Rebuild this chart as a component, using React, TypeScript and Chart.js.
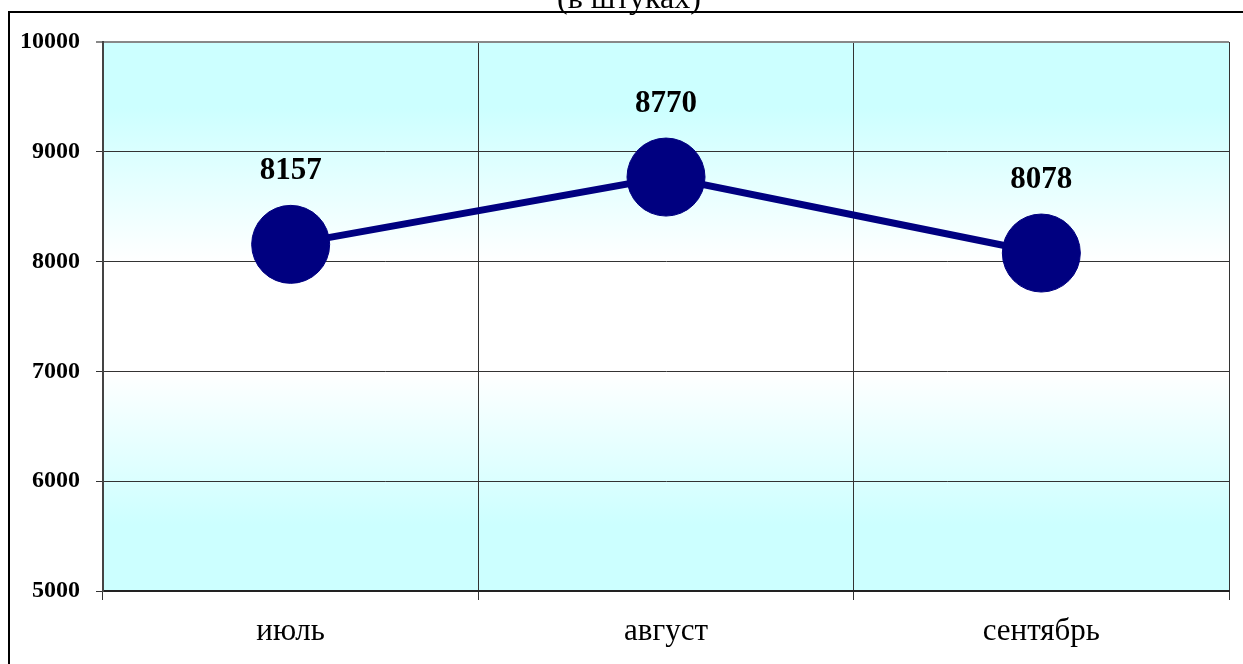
import React, { useEffect, useRef } from "react";
import { Chart, registerables } from "chart.js";

Chart.register(...registerables);

const title = "(в штуках)";
const categories = ["июль", "август", "сентябрь"];
const values = [8157, 8770, 8078];
const yMin = 5000;
const yMax = 10000;
const yStep = 1000;

const SERIF = '"Liberation Serif", "Times New Roman", serif';

export default function App() {
  const ref = useRef<HTMLCanvasElement | null>(null);

  useEffect(() => {
    if (!ref.current) return;

    const bgPlugin = {
      id: "bgFrame",
      beforeDraw(chart: any) {
        const { ctx, chartArea } = chart;
        ctx.save();
        ctx.fillStyle = "#ffffff";
        ctx.fillRect(0, 0, chart.width, chart.height);
        // outer frame
        ctx.fillStyle = "#000000";
        ctx.fillRect(8, 11, chart.width, 2);
        ctx.fillRect(8, 11, 2, chart.height);
        // title (cut off at top)
        ctx.font = `32px ${SERIF}`;
        ctx.textAlign = "center";
        ctx.textBaseline = "alphabetic";
        ctx.fillText(title, 629, 8);
        // plot background gradient
        const g = ctx.createLinearGradient(0, chartArea.top, 0, chartArea.bottom);
        g.addColorStop(0, "#ccffff");
        g.addColorStop(0.12, "#ccffff");
        g.addColorStop(0.4, "#ffffff");
        g.addColorStop(0.6, "#ffffff");
        g.addColorStop(0.88, "#ccffff");
        g.addColorStop(1, "#ccffff");
        ctx.fillStyle = g;
        ctx.fillRect(chartArea.left, chartArea.top, chartArea.right - chartArea.left, chartArea.bottom - chartArea.top);
        ctx.restore();
      },
    };

    const labelPlugin = {
      id: "pointLabels",
      afterDatasetsDraw(chart: any) {
        const { ctx } = chart;
        const meta = chart.getDatasetMeta(0);
        ctx.save();
        ctx.font = `bold 31px ${SERIF}`;
        ctx.fillStyle = "#000000";
        ctx.textAlign = "center";
        ctx.textBaseline = "middle";
        meta.data.forEach((pt: any, i: number) => {
          ctx.fillText(String(values[i]), pt.x, pt.y - 73);
        });
        ctx.restore();
      },
    };

    const chart = new Chart(ref.current, {
      type: "line",
      data: {
        labels: categories,
        datasets: [
          {
            data: values,
            borderColor: "#000080",
            backgroundColor: "#000080",
            borderWidth: 7,
            pointRadius: 39,
            pointHoverRadius: 39,
            pointBackgroundColor: "#000080",
            pointBorderColor: "#000080",
            pointBorderWidth: 1,
            tension: 0,
            fill: false,
          },
        ],
      },
      options: {
        responsive: false,
        animation: false,
        events: [],
        layout: { autoPadding: false, padding: { top: 42, right: 14, bottom: 0, left: 0 } },
        plugins: {
          legend: { display: false },
          tooltip: { enabled: false },
          title: { display: false },
        },
        scales: {
          x: {
            type: "category",
            offset: true,
            grid: {
              offset: true,
              display: true,
              drawTicks: true,
              tickLength: 9,
              color: (c: any) => (c.index === 3 ? "#888888" : "#333333"),
              lineWidth: (c: any) => (c.index === 3 ? 2 : 1),
            },
            border: { display: true, color: "#222222", width: 2 },
            ticks: {
              color: "#000000",
              font: { family: SERIF, size: 31 },
              padding: 13,
              maxRotation: 0,
            },
            afterFit: (scale: any) => {
              scale.height = 73;
              scale.paddingLeft = 0;
              scale.paddingRight = 0;
            },
          },
          y: {
            min: yMin,
            max: yMax,
            grid: {
              drawTicks: true,
              tickLength: 7,
              color: (c: any) => (c.tick && c.tick.value === yMax ? "#888888" : "#333333"),
              lineWidth: (c: any) => (c.tick && c.tick.value === yMax ? 2 : 1),
            },
            border: { display: true, color: "#444444", width: 2 },
            ticks: {
              stepSize: yStep,
              color: "#000000",
              font: { family: SERIF, size: 24, weight: "bold" },
              padding: 16,
              callback: (v: any) => String(v),
            },
            afterFit: (scale: any) => {
              scale.width = 103;
              scale.paddingTop = 0;
              scale.paddingBottom = 0;
            },
          },
        },
      },
      plugins: [bgPlugin, labelPlugin],
    });

    return () => chart.destroy();
  }, []);

  return (
    <div style={{ position: "absolute", left: 0, top: 0, width: 1243, height: 664, overflow: "hidden" }}>
      <canvas ref={ref} width={1243} height={664} style={{ display: "block", width: 1243, height: 664 }} />
    </div>
  );
}
